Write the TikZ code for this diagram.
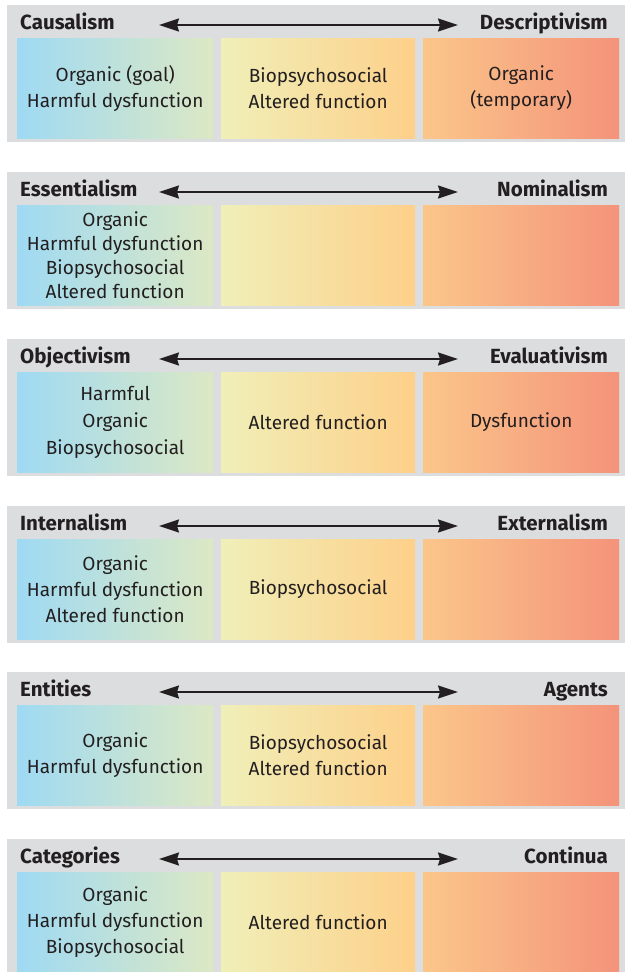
\documentclass[tikz,border=0pt]{standalone}
\usepackage{fontspec}
\setmainfont{Fira Sans}
\usetikzlibrary{arrows.meta}

\definecolor{bandgray}{HTML}{DCDDDF}
\definecolor{inkgray}{HTML}{231F20}
\definecolor{skyblue}{HTML}{9FDAF3}
\definecolor{palegreen}{HTML}{DCE8C4}
\definecolor{paleyellow}{HTML}{F0EFB8}
\definecolor{sunyellow}{HTML}{FFF595}
\definecolor{softorange}{HTML}{FDD08A}
\definecolor{peach}{HTML}{FBC68A}
\definecolor{salmon}{HTML}{F4937A}

\tikzset{
  band/.style={fill=bandgray, draw=none, anchor=north west, inner sep=0pt,
    minimum width=618pt, minimum height=137pt},
  cell/.style={draw=none, anchor=north west, inner sep=0pt, align=center,
    minimum height=100pt, text=inkgray, font=\fontsize{19}{26}\selectfont},
  leftcell/.style={cell, minimum width=196pt, left color=skyblue, right color=palegreen},
  midcell/.style={cell, minimum width=194pt, left color=paleyellow, middle color=sunyellow, right color=softorange},
  rightcell/.style={cell, minimum width=196pt, left color=peach, right color=salmon},
  headleft/.style={anchor=base west, inner sep=0pt, text=inkgray,
    font=\fontsize{20.5}{22}\selectfont\bfseries},
  headright/.style={headleft, anchor=base east},
  spanarrow/.style={{Stealth[length=20pt,width=13pt,inset=2pt]}-{Stealth[length=20pt,width=13pt,inset=2pt]},
    line width=2pt, draw=inkgray}
}

\begin{document}
\begin{tikzpicture}[x=1pt,y=-1pt]
  \useasboundingbox (0,0) rectangle (625,972);

  % causalism / descriptivism
  \node[band] (causal) at (7,5) {};
  \node[headleft] (causal-l) at (20,29) {Causalism};
  \node[headright] (causal-r) at (608,29) {Descriptivism};
  \coordinate (causal-from) at (159,25);
  \coordinate (causal-to) at (458,25);
  \draw[spanarrow] (causal-from) -- (causal-to);
  \node[leftcell] (causal-a) at (17,38) {Organic (goal)\\Harmful dysfunction};
  \node[midcell] (causal-b) at (221,38) {Biopsychosocial\\Altered function};
  \node[rightcell] (causal-c) at (423,38) {Organic\\(temporary)};

  % essentialism / nominalism
  \node[band] (essent) at (7,172) {};
  \node[headleft] (essent-l) at (20,196) {Essentialism};
  \node[headright] (essent-r) at (608,196) {Nominalism};
  \coordinate (essent-from) at (159,192);
  \coordinate (essent-to) at (458,192);
  \draw[spanarrow] (essent-from) -- (essent-to);
  \node[leftcell, font=\fontsize{19}{24}\selectfont] (essent-a) at (17,205)
    {Organic\\Harmful dysfunction\\Biopsychosocial\\Altered function};
  \node[midcell] (essent-b) at (221,205) {};
  \node[rightcell] (essent-c) at (423,205) {};

  % objectivism / evaluativism
  \node[band] (object) at (7,339) {};
  \node[headleft] (object-l) at (20,363) {Objectivism};
  \node[headright] (object-r) at (608,363) {Evaluativism};
  \coordinate (object-from) at (159,359);
  \coordinate (object-to) at (458,359);
  \draw[spanarrow] (object-from) -- (object-to);
  \node[leftcell, font=\fontsize{19}{27}\selectfont] (object-a) at (17,372) {Harmful\\Organic\\Biopsychosocial};
  \node[midcell] (object-b) at (221,372) {Altered function};
  \node[rightcell] (object-c) at (423,372) {Dysfunction};

  % internalism / externalism
  \node[band] (intern) at (7,506) {};
  \node[headleft] (intern-l) at (20,530) {Internalism};
  \node[headright] (intern-r) at (608,530) {Externalism};
  \coordinate (intern-from) at (159,526);
  \coordinate (intern-to) at (458,526);
  \draw[spanarrow] (intern-from) -- (intern-to);
  \node[leftcell] (intern-a) at (17,539) {Organic\\Harmful dysfunction\\Altered function};
  \node[midcell] (intern-b) at (221,539) {Biopsychosocial};
  \node[rightcell] (intern-c) at (423,539) {};

  % entities / agents
  \node[band] (entity) at (7,672) {};
  \node[headleft] (entity-l) at (20,696) {Entities};
  \node[headright] (entity-r) at (608,696) {Agents};
  \coordinate (entity-from) at (159,692);
  \coordinate (entity-to) at (458,692);
  \draw[spanarrow] (entity-from) -- (entity-to);
  \node[leftcell] (entity-a) at (17,705) {Organic\\Harmful dysfunction};
  \node[midcell] (entity-b) at (221,705) {Biopsychosocial\\Altered function};
  \node[rightcell] (entity-c) at (423,705) {};

  % categories / continua
  \node[band] (categ) at (7,839) {};
  \node[headleft] (categ-l) at (20,863) {Categories};
  \node[headright] (categ-r) at (608,863) {Continua};
  \coordinate (categ-from) at (159,859);
  \coordinate (categ-to) at (458,859);
  \draw[spanarrow] (categ-from) -- (categ-to);
  \node[leftcell] (categ-a) at (17,872) {Organic\\Harmful dysfunction\\Biopsychosocial};
  \node[midcell] (categ-b) at (221,872) {Altered function};
  \node[rightcell] (categ-c) at (423,872) {};
\end{tikzpicture}
\end{document}
